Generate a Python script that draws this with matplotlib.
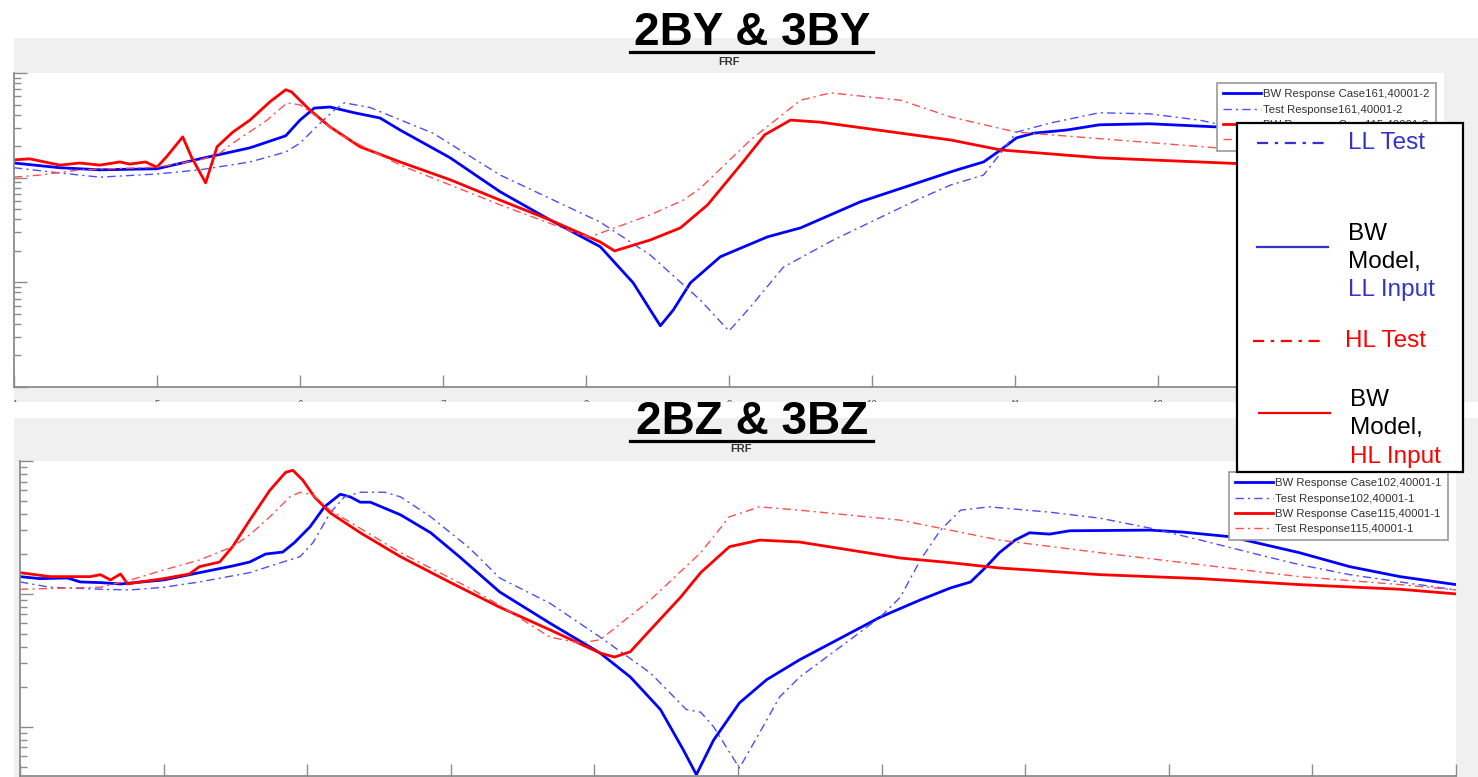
import matplotlib
matplotlib.use("Agg")
import numpy as np
import matplotlib.pyplot as plt
from matplotlib.lines import Line2D
from matplotlib.patches import Rectangle
from matplotlib.ticker import NullFormatter

plt.rcParams['font.family'] = ['Liberation Sans', 'DejaVu Sans']

W, H = 1478, 777

# ------------------------------------------------------------
# 2BY & 3BY  -- frequency (Hz) and magnitude (dB)
# ------------------------------------------------------------
y_bw_ll_f = [4.00, 4.32, 4.60, 5.00, 5.30, 5.65, 5.90, 6.00, 6.10, 6.21, 6.38, 6.56, 6.70,
             7.05, 7.40, 7.75, 8.10, 8.33, 8.45, 8.52, 8.61, 8.73, 8.94, 9.27, 9.50, 9.92,
             10.55, 10.62, 10.78, 10.90, 11.01, 11.13, 11.36, 11.59, 11.94, 12.41, 12.99, 14.00]
y_bw_ll_db = [-17.2, -18.1, -18.5, -18.3, -16.4, -14.3, -12.0, -9.0, -6.7, -6.5, -7.6, -8.6, -10.9,
              -16.2, -22.7, -28.1, -33.2, -40.1, -45.3, -48.3, -45.3, -40.1, -35.1, -31.3, -29.6, -24.6,
              -18.9, -18.3, -17.0, -14.7, -12.4, -11.5, -10.9, -9.9, -9.7, -10.3, -10.5, -11.3]

y_test_ll_f = [4.00, 4.32, 4.60, 5.00, 5.30, 5.65, 5.90, 6.00, 6.14, 6.24, 6.31, 6.49, 6.58,
               6.93, 7.40, 8.10, 8.45, 8.80, 9.00, 9.15, 9.38, 9.73, 10.31, 10.55, 10.78,
               10.90, 11.01, 11.24, 11.59, 11.94, 12.29, 12.41, 12.99, 14.00]
y_test_ll_db = [-18.1, -19.1, -19.9, -19.3, -18.5, -17.0, -15.1, -13.4, -9.6, -7.1, -5.7, -6.6, -7.6,
                -11.5, -19.5, -28.5, -34.8, -43.4, -49.3, -44.7, -37.1, -31.9, -24.3, -21.4, -19.5,
                -15.3, -11.3, -9.6, -7.6, -7.8, -9.0, -9.7, -10.5, -12.8]

y_bw_hl_f = [4.00, 4.11, 4.32, 4.46, 4.60, 4.74, 4.81, 4.92, 5.00, 5.07, 5.18, 5.24, 5.34,
             5.42, 5.53, 5.65, 5.79, 5.90, 5.94, 6.07, 6.21, 6.42, 6.70, 7.05, 7.40, 7.75,
             8.10, 8.20, 8.45, 8.66, 8.85, 9.08, 9.25, 9.43, 9.64, 10.55, 10.90, 11.59,
             12.29, 12.99, 14.00]
y_bw_hl_db = [-16.6, -16.4, -17.6, -17.2, -17.6, -17.0, -17.4, -17.0, -18.0, -15.9, -12.2, -16.0, -21.0,
              -14.1, -11.3, -9.0, -5.5, -3.2, -3.6, -7.1, -10.3, -14.1, -17.0, -20.4, -24.3, -28.1,
              -32.3, -34.0, -31.9, -29.6, -25.2, -17.6, -11.8, -9.0, -9.4, -12.8, -14.7, -16.2,
              -17.0, -17.8, -18.9]

y_test_hl_f = [4.00, 4.18, 4.46, 5.00, 5.30, 5.42, 5.53, 5.77, 5.91, 6.00, 6.12, 6.28, 6.70,
               7.40, 7.96, 8.03, 8.45, 8.68, 8.80, 9.15, 9.50, 9.71, 10.20, 10.55, 11.01,
               12.41, 14.00]
y_test_hl_db = [-19.9, -19.5, -18.5, -18.0, -16.6, -15.7, -13.4, -9.0, -5.7, -6.1, -8.4, -11.8, -17.6,
                -25.2, -30.9, -31.3, -27.1, -24.3, -22.0, -12.8, -5.2, -3.8, -5.2, -8.4, -11.3,
                -14.3, -16.2]

# ------------------------------------------------------------
# 2BZ & 3BZ
# ------------------------------------------------------------
z_bw_ll_f = [4.00, 4.14, 4.33, 4.42, 4.56, 4.70, 5.00, 5.25, 5.48, 5.60, 5.71, 5.83, 5.91,
             6.02, 6.12, 6.23, 6.30, 6.37, 6.44, 6.65, 6.86, 7.06, 7.34, 7.69, 8.04, 8.25,
             8.46, 8.62, 8.71, 8.83, 9.01, 9.20, 9.43, 9.78, 9.99, 10.27, 10.41, 10.48, 10.62,
             10.72, 10.82, 10.93, 11.03, 11.17, 11.31, 11.87, 12.10, 12.43, 12.91, 13.26,
             13.61, 14.00]
z_bw_ll_db = [-17.4, -17.7, -17.6, -18.2, -18.3, -18.5, -17.9, -16.8, -15.8, -15.2, -14.0, -13.7, -12.3,
              -9.9, -6.9, -5.0, -5.4, -6.2, -6.2, -8.1, -10.8, -14.4, -19.7, -24.4, -28.9, -32.5,
              -37.4, -43.5, -47.2, -42.0, -36.4, -32.9, -29.9, -25.9, -23.5, -20.9, -19.7, -19.1, -18.2,
              -16.1, -13.8, -11.9, -10.8, -11.0, -10.5, -10.4, -10.7, -11.4, -13.8, -15.9,
              -17.4, -18.6]

z_test_ll_f = [4.00, 4.21, 4.56, 4.77, 5.00, 5.25, 5.60, 5.83, 5.95, 6.04, 6.16, 6.26, 6.37,
               6.54, 6.65, 6.86, 7.13, 7.34, 7.69, 8.04, 8.39, 8.64, 8.74, 8.83, 9.01, 9.15,
               9.29, 9.43, 9.78, 9.99, 10.13, 10.27, 10.41, 10.55, 10.75, 11.17, 11.52, 11.87,
               12.22, 12.57, 12.91, 13.26, 13.61, 14.00]
z_test_ll_db = [-18.2, -19.0, -19.3, -19.4, -19.0, -18.2, -16.8, -15.2, -14.4, -12.3, -7.8, -5.4, -4.7,
                -4.7, -5.4, -8.4, -13.1, -17.6, -21.4, -26.5, -31.9, -37.4, -37.8, -40.0, -46.2, -40.9,
                -35.5, -32.5, -26.9, -23.5, -20.5, -14.9, -10.4, -7.4, -6.9, -7.7, -8.6, -10.1,
                -11.9, -13.8, -15.6, -17.1, -18.2, -19.4]

z_bw_hl_f = [4.00, 4.21, 4.49, 4.56, 4.63, 4.70, 4.75, 4.84, 5.00, 5.18, 5.25, 5.39, 5.48,
             5.60, 5.74, 5.85, 5.90, 5.97, 6.05, 6.16, 6.37, 6.65, 6.99, 7.34, 7.69, 8.04,
             8.14, 8.25, 8.39, 8.60, 8.74, 8.94, 9.15, 9.43, 9.78, 10.13, 10.48, 10.82,
             11.52, 12.22, 12.91, 13.61, 14.00]
z_bw_hl_db = [-16.8, -17.4, -17.4, -17.1, -17.9, -17.0, -18.5, -18.2, -17.7, -17.0, -15.9, -15.2, -12.9,
              -8.9, -4.4, -1.7, -1.4, -2.9, -5.4, -7.8, -10.8, -14.4, -18.2, -22.0, -25.4, -28.9,
              -29.5, -28.7, -25.4, -20.5, -16.8, -12.9, -11.9, -12.2, -13.4, -14.6, -15.3, -16.1,
              -17.1, -17.7, -18.6, -19.3, -20.0]

z_test_hl_f = [4.00, 4.56, 4.77, 5.00, 5.25, 5.48, 5.60, 5.74, 5.88, 5.95, 6.04, 6.16, 6.65,
               7.13, 7.34, 7.69, 7.90, 8.04, 8.39, 8.74, 8.94, 9.15, 9.43, 10.13, 10.82,
               11.52, 12.22, 12.91, 13.61, 14.00]
z_test_hl_db = [-19.3, -19.0, -17.9, -16.4, -14.9, -12.9, -11.1, -8.4, -5.4, -4.7, -5.1, -7.4, -13.8,
                -19.1, -21.7, -26.5, -27.4, -26.9, -20.9, -13.8, -8.4, -6.9, -7.4, -8.9, -11.9,
                -13.8, -15.6, -17.4, -18.6, -19.4]

x_ticks = [4, 5, 6, 7, 8, 9, 10, 11, 12, 13, 14]

C_BLUE = '#0000ff'
C_BLUE_T = '#4d4dff'
C_RED = '#ff0000'
C_RED_T = '#ff5050'
C_LEG_BLUE = '#3333cc'
DASHDOT = (0, (6, 3, 1.5, 3))


def mag(db):
    return 10 ** (np.array(db) / 20.0)


def fx(px):
    return px / W


def fy(py):
    return 1 - py / H


def style_axes(ax, ylo, show_xlabels=True):
    ax.set_yscale('log')
    ax.set_xlim(4, 14)
    ax.set_ylim(ylo, 1.0)
    ax.set_xticks(x_ticks)
    ax.spines['top'].set_visible(False)
    ax.spines['right'].set_visible(False)
    for s in ('left', 'bottom'):
        ax.spines[s].set_color('#8c8c8c')
        ax.spines[s].set_linewidth(1.3)
    ax.tick_params(which='major', direction='in', length=9, width=1, color='#8c8c8c',
                   labelsize=7, labelcolor='#555555', pad=9, labelbottom=show_xlabels)
    ax.tick_params(which='minor', direction='in', length=5, width=1, color='#8c8c8c')
    ax.yaxis.set_major_formatter(NullFormatter())
    ax.yaxis.set_minor_formatter(NullFormatter())


def draw_panel(ax, curves, labels):
    handles = []
    for (f, db, color, ls, lw), lab in zip(curves, labels):
        h, = ax.plot(f, mag(db), color=color, linestyle=ls, linewidth=lw, label=lab)
        handles.append(h)
    return handles


fig = plt.figure(figsize=(W / 100, H / 100), dpi=100)
fig.patch.set_facecolor('white')

# grey MATLAB figure backgrounds
fig.add_artist(Rectangle((fx(14), fy(402)), fx(1478) - fx(14), fy(38) - fy(402),
                         transform=fig.transFigure, facecolor='#f0f0f0', edgecolor='none', zorder=-5))
fig.add_artist(Rectangle((fx(14), 0), fx(1478) - fx(14), fy(418),
                         transform=fig.transFigure, facecolor='#f0f0f0', edgecolor='none', zorder=-5))

ax1 = fig.add_axes([fx(14), fy(387), fx(1444) - fx(14), fy(73) - fy(387)])
ax2 = fig.add_axes([fx(20), fy(776), fx(1456) - fx(20), fy(461) - fy(776)])

style_axes(ax1, 1e-3)
style_axes(ax2, 10 ** (-47.4 / 20), show_xlabels=False)

top_curves = [
    (y_bw_ll_f, y_bw_ll_db, C_BLUE, '-', 2.0),
    (y_test_ll_f, y_test_ll_db, C_BLUE_T, DASHDOT, 1.0),
    (y_bw_hl_f, y_bw_hl_db, C_RED, '-', 2.0),
    (y_test_hl_f, y_test_hl_db, C_RED_T, DASHDOT, 1.0),
]
top_labels = ['BW Response Case161,40001-2', 'Test Response161,40001-2',
              'BW Response Case115,40001-2', 'Test Response115,40001-2']
bot_curves = [
    (z_bw_ll_f, z_bw_ll_db, C_BLUE, '-', 2.0),
    (z_test_ll_f, z_test_ll_db, C_BLUE_T, DASHDOT, 1.0),
    (z_bw_hl_f, z_bw_hl_db, C_RED, '-', 2.0),
    (z_test_hl_f, z_test_hl_db, C_RED_T, DASHDOT, 1.0),
]
bot_labels = ['BW Response Case102,40001-1', 'Test Response102,40001-1',
              'BW Response Case115,40001-1', 'Test Response115,40001-1']

draw_panel(ax1, top_curves, top_labels)
draw_panel(ax2, bot_curves, bot_labels)

leg_kw = dict(loc='upper left', bbox_transform=fig.transFigure, borderaxespad=0,
              fontsize=8.2, handlelength=3.3, handletextpad=0.2, labelspacing=0.46,
              borderpad=0.55, fancybox=False, framealpha=1, edgecolor='#999999',
              labelcolor='#333333')
l1 = ax1.legend(bbox_to_anchor=(fx(1217), fy(83)), **leg_kw)
l2 = ax2.legend(bbox_to_anchor=(fx(1229), fy(472)), **leg_kw)
for lg in (l1, l2):
    lg.get_frame().set_linewidth(1.2)

# white gap between the two figure windows (hides lower half of tick labels)
fig.add_artist(Rectangle((0, fy(418)), 1, fy(402) - fy(418), transform=fig.transFigure,
                         facecolor='white', edgecolor='none', zorder=5))

# slide titles
for title, base, uline, frf_x, frf_y in [('2BY & 3BY', 45, 51.5, 729, 62),
                                         ('2BZ & 3BZ', 434, 440.5, 741, 449)]:
    fig.text(fx(752), fy(base), title, ha='center', va='baseline', fontsize=33,
             fontweight='bold', color='black', zorder=8)
    fig.add_artist(Line2D([fx(630), fx(873)], [fy(uline), fy(uline)], color='black',
                          linewidth=2.3, transform=fig.transFigure, zorder=8))
    fig.text(fx(frf_x), fy(frf_y), 'FRF', ha='center', va='center', fontsize=8,
             fontweight='bold', color='#333333', zorder=8)

# slide legend box
fig.add_artist(Rectangle((fx(1237), fy(472)), fx(1463) - fx(1237), fy(123) - fy(472),
                         transform=fig.transFigure, facecolor='white', edgecolor='black',
                         linewidth=1.6, zorder=10))

key_rows = [
    (1257, 1328, 143, C_LEG_BLUE, (0, (5, 3, 1.5, 3))),
    (1257, 1328, 247, C_LEG_BLUE, '-'),
    (1253, 1325, 341, C_RED, (0, (5, 3, 1.5, 3))),
    (1259, 1330, 413, C_RED, '-'),
]
for x0, x1, yy, col, ls in key_rows:
    fig.add_artist(Line2D([fx(x0), fx(x1)], [fy(yy), fy(yy)], color=col, linestyle=ls,
                          linewidth=1.6, transform=fig.transFigure, zorder=11))

key_text = [
    (1348, 143, 'LL Test', C_LEG_BLUE),
    (1348, 234, 'BW', 'black'),
    (1348, 262, 'Model,', 'black'),
    (1348, 290, 'LL Input', C_LEG_BLUE),
    (1345, 341, 'HL Test', C_RED),
    (1350, 400, 'BW', 'black'),
    (1350, 428, 'Model,', 'black'),
    (1350, 457, 'HL Input', C_RED),
]
for px, py, s, col in key_text:
    fig.text(fx(px), fy(py), s, ha='left', va='center', fontsize=17.5, color=col, zorder=11)

fig.savefig('out.png', dpi=100, facecolor='white')
